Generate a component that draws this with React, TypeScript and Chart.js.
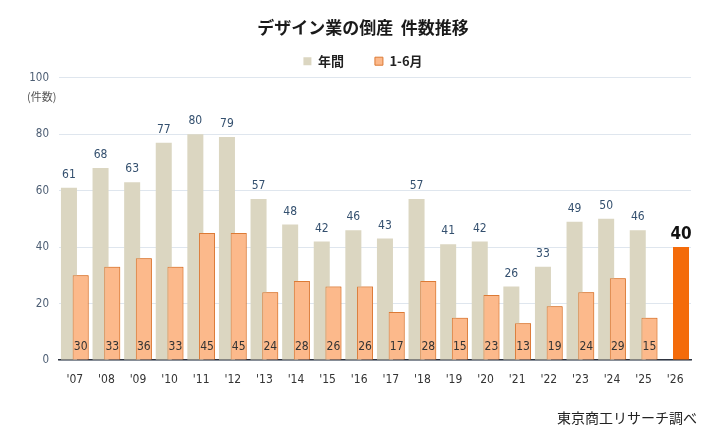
import React, { useEffect, useRef } from 'react';
import { Chart, registerables } from 'chart.js';

Chart.register(...registerables);

const years = ["'07", "'08", "'09", "'10", "'11", "'12", "'13", "'14", "'15", "'16", "'17", "'18", "'19", "'20", "'21", "'22", "'23", "'24", "'25", "'26"];
const annual = [61, 68, 63, 77, 80, 79, 57, 48, 42, 46, 43, 57, 41, 42, 26, 33, 49, 50, 46, null];
const firstHalf = [30, 33, 36, 33, 45, 45, 24, 28, 26, 26, 17, 28, 15, 23, 13, 19, 24, 29, 15, 40];
const yTicks = [0, 20, 40, 60, 80, 100];

const NUM_FONT = '"DejaVu Sans Condensed", "Liberation Sans", sans-serif';
const JP_FONT = '"Noto Sans CJK JP", sans-serif';
const LAST = years.length - 1;

const GREY = '#dbd6c1';
const ORANGE = '#fcb98b';
const ORANGE_BORDER = '#dc7a35';
const ORANGE_NOW = '#f46b0a';

// orange bars overlap the grey ones, so draw them again on top, then the value labels
const labelsPlugin = {
  id: 'valueLabels',
  afterLayout(chart: any) {
    // title and legend are centred on the page, not on the padded area
    if (chart.titleBlock) chart.titleBlock.left = 35;
    if (chart.legend) chart.legend.left = 35;
  },
  afterDatasetsDraw(chart: any) {
    const ctx = chart.ctx;
    const halfMeta = chart.getDatasetMeta(1);
    halfMeta.controller.draw();

    ctx.save();
    ctx.textAlign = 'center';
    ctx.textBaseline = 'middle';

    const annualMeta = chart.getDatasetMeta(0);
    ctx.font = `12px ${NUM_FONT}`;
    ctx.fillStyle = '#34506f';
    annualMeta.data.forEach((bar: any, i: number) => {
      if (annual[i] == null) return;
      ctx.fillText(String(annual[i]), bar.x, bar.y - 13);
    });

    const base = chart.scales.y.getPixelForValue(0);
    halfMeta.data.forEach((bar: any, i: number) => {
      if (i === LAST) {
        ctx.font = `bold 17px ${NUM_FONT}`;
        ctx.fillStyle = '#111';
        ctx.fillText(String(firstHalf[i]), bar.x, bar.y - 13);
      } else {
        ctx.font = `12px ${NUM_FONT}`;
        ctx.fillStyle = '#333';
        ctx.fillText(String(firstHalf[i]), bar.x, base - 13);
      }
    });
    ctx.restore();
  },
  afterDraw(chart: any) {
    const ctx = chart.ctx;
    ctx.save();
    ctx.textBaseline = 'middle';
    ctx.textAlign = 'left';
    ctx.font = `11px ${JP_FONT}`;
    ctx.fillStyle = '#555';
    ctx.fillText('(件数)', 27, 97);
    ctx.textAlign = 'right';
    ctx.font = `14px ${JP_FONT}`;
    ctx.fillStyle = '#222';
    ctx.fillText('東京商工リサーチ調べ', 697, 418);
    ctx.restore();
  },
};

export default function App() {
  const canvasRef = useRef<HTMLCanvasElement>(null);
  const chartRef = useRef<Chart | null>(null);

  useEffect(() => {
    document.body.style.margin = '0';
    if (!canvasRef.current) return;
    const ctx = canvasRef.current.getContext('2d');
    if (!ctx) return;

    if (chartRef.current) chartRef.current.destroy();

    chartRef.current = new Chart(ctx, {
      type: 'bar',
      data: {
        labels: years,
        datasets: [
          {
            label: '年間',
            data: annual,
            backgroundColor: GREY,
            borderWidth: 0,
            categoryPercentage: 0.74,
            barPercentage: 1.37,
          },
          {
            label: '1-6月',
            data: firstHalf,
            backgroundColor: (c: any) => (c.dataIndex === LAST ? ORANGE_NOW : ORANGE),
            borderColor: (c: any) => (c.dataIndex === LAST ? ORANGE_NOW : ORANGE_BORDER),
            borderWidth: 1,
            borderSkipped: 'bottom',
            categoryPercentage: 0.74,
            barPercentage: 1.37,
          },
        ],
      },
      options: {
        responsive: true,
        maintainAspectRatio: false,
        animation: false,
        layout: { padding: { top: 18, right: 37, left: 0, bottom: 0 } },
        plugins: {
          title: {
            display: true,
            text: 'デザイン業の倒産  件数推移',
            color: '#1a1a1a',
            font: { family: JP_FONT, size: 17, weight: 'bold', lineHeight: 1.1 },
            padding: { top: 0, bottom: 0 },
          },
          legend: {
            position: 'top',
            labels: {
              boxWidth: 8,
              boxHeight: 8,
              padding: 18,
              color: '#222',
              font: { family: JP_FONT, size: 13, weight: 'bold' },
              generateLabels: (chart: any) =>
                Chart.defaults.plugins.legend.labels.generateLabels(chart).map((item: any, i: number) => ({
                  ...item,
                  text: i === 0 ? item.text + '\u3000' : item.text,
                  fillStyle: i === 0 ? GREY : ORANGE,
                  strokeStyle: i === 0 ? GREY : ORANGE_BORDER,
                  lineWidth: i === 0 ? 0 : 1,
                })),
            },
          },
          tooltip: { enabled: false },
        },
        scales: {
          x: {
            grid: { display: false },
            border: { color: '#2e3440', width: 1.5 },
            ticks: { color: '#333', padding: 5, font: { family: NUM_FONT, size: 12 } },
            afterFit: (scale: any) => {
              scale.height = 76;
            },
          },
          y: {
            min: 0,
            max: 100,
            afterBuildTicks: (scale: any) => {
              scale.ticks = yTicks.map((v) => ({ value: v }));
            },
            grid: { color: '#dfe6ee', lineWidth: 1, drawTicks: false },
            border: { display: false },
            ticks: { color: '#4c5d73', padding: 10, font: { family: NUM_FONT, size: 11.5 } },
            afterFit: (scale: any) => {
              scale.width = 59;
            },
          },
        },
      },
      plugins: [labelsPlugin],
    });

    return () => chartRef.current?.destroy();
  }, []);

  return (
    <div style={{ width: 728, height: 436, background: '#fff' }}>
      <canvas ref={canvasRef}></canvas>
    </div>
  );
}
